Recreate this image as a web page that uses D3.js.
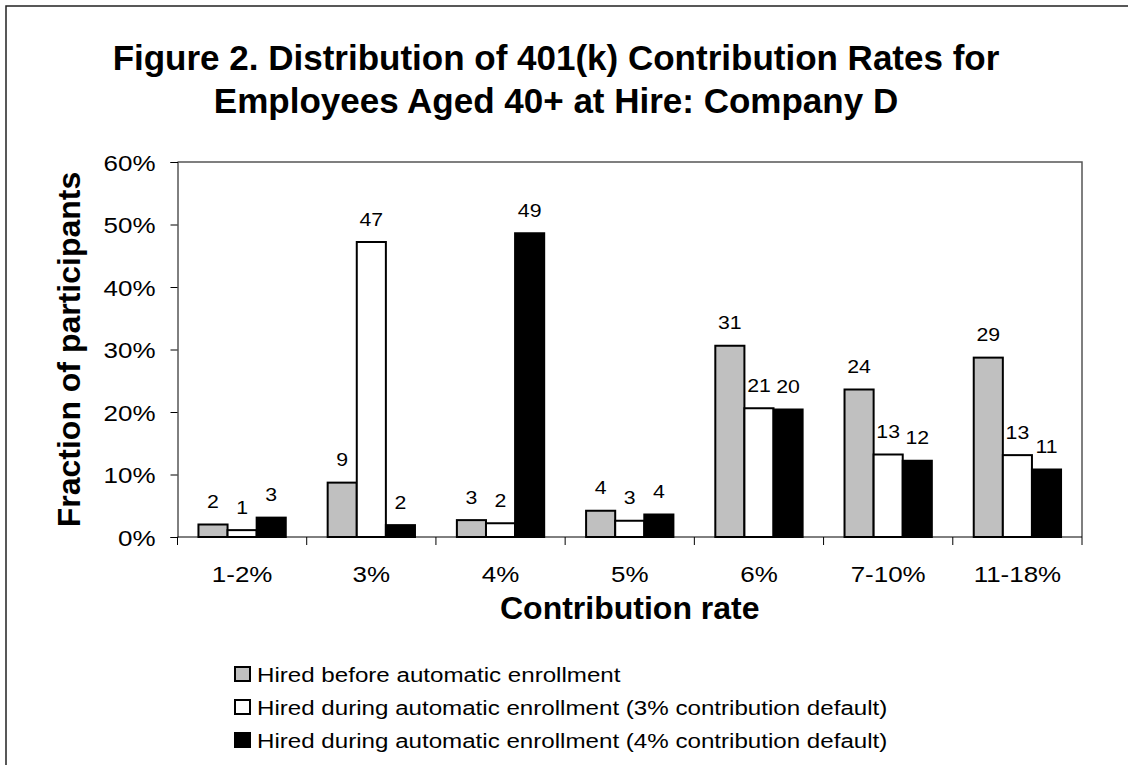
<!DOCTYPE html>
<html>
<head>
<meta charset="utf-8">
<script src="https://cdn.jsdelivr.net/npm/d3@7"></script>
<style>
  body { margin: 0; background: #fff; }
  svg { display: block; font-family: "Liberation Sans", Arial, sans-serif; }
</style>
</head>
<body>
<svg width="1128" height="765"></svg>
<script>
// **** data ****
var categories = ['1-2%', '3%', '4%', '5%', '6%', '7-10%', '11-18%'];
var seriesNames = [
  'Hired before automatic enrollment',
  'Hired during automatic enrollment (3% contribution default)',
  'Hired during automatic enrollment (4% contribution default)'
];
var hiredBefore = [2.0, 8.7, 2.7, 4.2, 30.6, 23.6, 28.7];
var hiredDuring3 = [1.1, 47.2, 2.2, 2.6, 20.6, 13.2, 13.1];
var hiredDuring4 = [3.1, 1.9, 48.6, 3.6, 20.4, 12.2, 10.8];
var yTicks = [0, 10, 20, 30, 40, 50, 60];
var seriesColors = ['#c0c0c0', '#ffffff', '#000000'];

var allSeries = [hiredBefore, hiredDuring3, hiredDuring4];

var svg = d3.select('svg');

// outer frame (right/bottom sides fall outside the picture)
svg.append('rect')
  .attr('x', 6).attr('y', 6)
  .attr('width', 1140).attr('height', 780)
  .attr('fill', 'none')
  .attr('stroke', '#222')
  .attr('stroke-width', 1.5);

// **** scales ****
var plotLeft = 177.5, plotRight = 1082, plotTop = 162, plotBottom = 537;

var x0 = d3.scaleBand().domain(categories).range([plotLeft, plotRight]).padding(0);
var x1 = d3.scaleBand().domain([0, 1, 2])
  .range([0, x0.bandwidth()])
  .paddingInner(0).paddingOuter(0.72);
var y = d3.scaleLinear().domain([0, 60]).range([plotBottom, plotTop]);

// plot area top / right border
svg.append('path')
  .attr('d', 'M' + plotLeft + ',' + y(60) + 'H' + plotRight + 'V' + plotBottom)
  .attr('fill', 'none')
  .attr('stroke', '#555')
  .attr('stroke-width', 1.5);

// **** bars ****
var groups = svg.append('g').selectAll('g')
  .data(categories)
  .enter().append('g')
  .attr('transform', function(d) { return 'translate(' + x0(d) + ',0)'; });

groups.selectAll('rect')
  .data(function(d, i) { return allSeries.map(function(s, k) { return { k: k, v: s[i] }; }); })
  .enter().append('rect')
  .attr('x', function(d) { return x1(d.k); })
  .attr('y', function(d) { return y(d.v); })
  .attr('width', x1.bandwidth())
  .attr('height', function(d) { return y(0) - y(d.v); })
  .attr('fill', function(d) { return seriesColors[d.k]; })
  .attr('stroke', '#000')
  .attr('stroke-width', 2);

// value labels (text in the source is a little stretched sideways)
groups.selectAll('text')
  .data(function(d, i) { return allSeries.map(function(s, k) { return { k: k, v: s[i] }; }); })
  .enter().append('text')
  .attr('transform', function(d) {
    return 'translate(' + (x1(d.k) + x1.bandwidth() / 2) + ',' + (y(d.v) - 16.5) + ') scale(1.12,1)';
  })
  .attr('text-anchor', 'middle')
  .style('font-size', '19px')
  .text(function(d) { return Math.round(d.v); });

// **** axes ****
var yAxis = svg.append('g').attr('class', 'y axis')
  .attr('transform', 'translate(' + plotLeft + ',0)')
  .call(d3.axisLeft(y).tickValues(yTicks).tickSize(7).tickFormat(function(d) { return d + '%'; }));
yAxis.select('.domain').attr('stroke', '#000');
yAxis.selectAll('.tick text')
  .attr('x', null).attr('dy', null)
  .attr('transform', 'translate(-22,8) scale(1.18,1)')
  .style('font-size', '22px')
  .attr('fill', '#000')
  .attr('font-family', null);

var xAxis = svg.append('g').attr('class', 'x axis')
  .attr('transform', 'translate(0,' + plotBottom + ')');
xAxis.append('line')
  .attr('x1', plotLeft).attr('x2', plotRight)
  .attr('stroke', '#000');
xAxis.selectAll('.tickmark')
  .data(categories.concat(['end']))
  .enter().append('line')
  .attr('x1', function(d, i) { return plotLeft + i * x0.step(); })
  .attr('x2', function(d, i) { return plotLeft + i * x0.step(); })
  .attr('y1', 0).attr('y2', 8)
  .attr('stroke', '#000');
xAxis.selectAll('.cat')
  .data(categories)
  .enter().append('text')
  .attr('transform', function(d) {
    return 'translate(' + (x0(d) + x0.bandwidth() / 2) + ',45) scale(1.18,1)';
  })
  .attr('text-anchor', 'middle')
  .style('font-size', '22px')
  .text(function(d) { return d; });

// **** titles ****
svg.append('text')
  .attr('x', 556).attr('y', 70)
  .attr('text-anchor', 'middle')
  .style('font-size', '35px').style('font-weight', 'bold')
  .text('Figure 2. Distribution of 401(k) Contribution Rates for');
svg.append('text')
  .attr('x', 556).attr('y', 113)
  .attr('text-anchor', 'middle')
  .style('font-size', '35px').style('font-weight', 'bold')
  .text('Employees Aged 40+ at Hire: Company D');

svg.append('text')
  .attr('transform', 'translate(' + ((plotLeft + plotRight) / 2) + ',619)')
  .attr('text-anchor', 'middle')
  .style('font-size', '32px').style('font-weight', 'bold')
  .text('Contribution rate');

svg.append('text')
  .attr('transform', 'translate(80,' + ((plotTop + plotBottom) / 2) + ') rotate(-90)')
  .attr('text-anchor', 'middle')
  .style('font-size', '32px').style('font-weight', 'bold')
  .text('Fraction of participants');

// **** legend ****
var legend = svg.append('g').selectAll('g')
  .data(seriesNames)
  .enter().append('g')
  .attr('transform', function(d, i) { return 'translate(235,' + (674 + i * 33) + ')'; });

legend.append('rect')
  .attr('x', 0).attr('y', -7)
  .attr('width', 15).attr('height', 14)
  .attr('fill', function(d, i) { return seriesColors[i]; })
  .attr('stroke', '#000')
  .attr('stroke-width', 2);

legend.append('text')
  .attr('transform', 'translate(22,8) scale(1.15,1)')
  .style('font-size', '21px')
  .text(function(d) { return d; });
</script>
</body>
</html>
